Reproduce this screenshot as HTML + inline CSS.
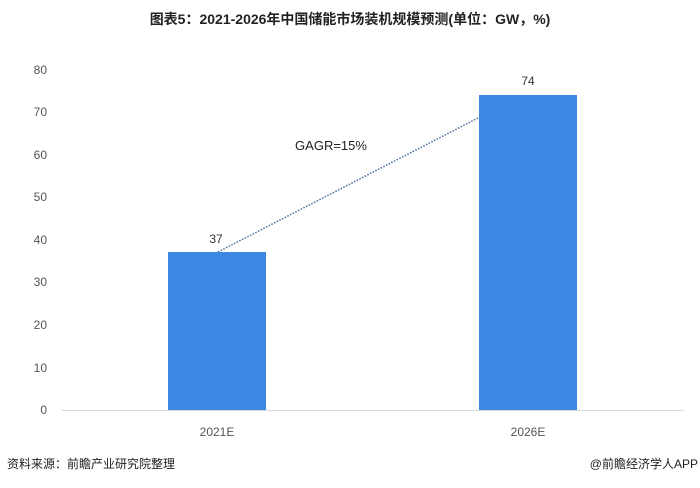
<!DOCTYPE html>
<html><head><meta charset="utf-8"><style>
body{margin:0;width:700px;height:483px;background:#fff;overflow:hidden;font-family:"Liberation Sans","Noto Sans CJK SC",sans-serif;}
</style></head><body>
<svg width="700" height="483" xmlns="http://www.w3.org/2000/svg" font-family="Liberation Sans, Noto Sans CJK SC, sans-serif">
<text x="350" y="24" text-anchor="middle" font-size="14" font-weight="bold" fill="#222">图表5：2021-2026年中国储能市场装机规模预测(单位：GW，%)</text>
<g font-size="12" fill="#555" text-anchor="end">
<text x="47" y="414">0</text>
<text x="47" y="372">10</text>
<text x="47" y="329">20</text>
<text x="47" y="286">30</text>
<text x="47" y="244">40</text>
<text x="47" y="201">50</text>
<text x="47" y="159">60</text>
<text x="47" y="116">70</text>
<text x="47" y="74">80</text>
</g>
<line x1="62" y1="410.5" x2="684" y2="410.5" stroke="#d9d9d9" stroke-width="1"/>
<rect x="168" y="252" width="98" height="158" fill="#3b87e1"/>
<rect x="479" y="95" width="98" height="315" fill="#3b87e1"/>
<line x1="218" y1="252" x2="478" y2="118" stroke="#4a6fa0" stroke-width="1.5" stroke-dasharray="1.5,1.5"/>
<text x="216" y="243" text-anchor="middle" font-size="12" fill="#333">37</text>
<text x="528" y="85" text-anchor="middle" font-size="12" fill="#333">74</text>
<text x="331" y="150" text-anchor="middle" font-size="13" fill="#222">GAGR=15%</text>
<g font-size="12" fill="#555" text-anchor="middle">
<text x="217" y="436">2021E</text>
<text x="528" y="436">2026E</text>
</g>
<text x="7" y="468" font-size="12" fill="#222">资料来源：前瞻产业研究院整理</text>
<text x="698" y="468" text-anchor="end" font-size="12" fill="#222">@前瞻经济学人APP</text>
</svg>
</body></html>
